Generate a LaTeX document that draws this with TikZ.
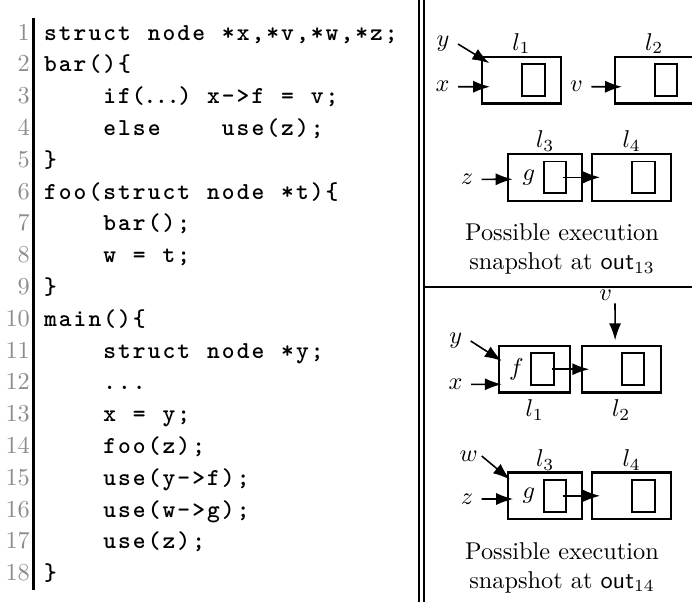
\documentclass[tikz,border=0pt]{standalone}
\usetikzlibrary{arrows.meta,positioning}
\definecolor{lnum}{gray}{0.55}
\newdimen\colw \colw=6.1pt
\makeatletter
\newcommand\cl[1]{\@tfor\cch:=#1\do{\makebox[\colw]{\cch}}}
\makeatother
\newcommand\cln[2]{\makebox[12.1pt][r]{\rmfamily\mdseries\color{lnum}#1}\hspace{5.4pt}#2}

\begin{document}
\begin{tikzpicture}
[x=0.4115pt, y=-0.4115pt,
codeln/.style={anchor=base west, inner sep=0pt, font=\ttfamily\bfseries},
cell/.style={draw, line width=0.9pt, inner sep=0pt, outer sep=0pt, minimum height=19.2pt},
slot/.style={draw, line width=0.8pt, inner sep=0pt, outer sep=0pt, minimum width=9.2pt, minimum height=13pt},
ptr/.style={-{Latex[length=7pt,width=5pt]}, line width=0.65pt},
ptrname/.style={anchor=east}
]
  \useasboundingbox (0,0) rectangle (692,602);

  \draw[line width=0.9pt] (33.5,18) -- (33.5,590);
  \node[codeln] (c1)  at (0,40)    {\cln{1}{\cl{struct~node~*x,*v,*w,*z;}}};
  \node[codeln] (c2)  at (0,71.8)  {\cln{2}{\cl{bar()\{}}};
  \node[codeln] (c3)  at (0,103.6) {\cln{3}{\cl{~~~~if}\makebox[4\colw][s]{(\hss.\hss.\hss.\hss)}\cl{~x->f~=~v;}}};
  \node[codeln] (c4)  at (0,135.4) {\cln{4}{\cl{~~~~else~~~~use(z);}}};
  \node[codeln] (c5)  at (0,167.2) {\cln{5}{\cl{\}}}};
  \node[codeln] (c6)  at (0,199)   {\cln{6}{\cl{foo(struct~node~*t)\{}}};
  \node[codeln] (c7)  at (0,230.8) {\cln{7}{\cl{~~~~bar();}}};
  \node[codeln] (c8)  at (0,262.6) {\cln{8}{\cl{~~~~w~=~t;}}};
  \node[codeln] (c9)  at (0,294.4) {\cln{9}{\cl{\}}}};
  \node[codeln] (c10) at (0,326.2) {\cln{10}{\cl{main()\{}}};
  \node[codeln] (c11) at (0,358)   {\cln{11}{\cl{~~~~struct~node~*y;}}};
  \node[codeln] (c12) at (0,389.8) {\cln{12}{\cl{~~~~...}}};
  \node[codeln] (c13) at (0,421.6) {\cln{13}{\cl{~~~~x~=~y;}}};
  \node[codeln] (c14) at (0,453.4) {\cln{14}{\cl{~~~~foo(z);}}};
  \node[codeln] (c15) at (0,485.2) {\cln{15}{\cl{~~~~use(y->f);}}};
  \node[codeln] (c16) at (0,517)   {\cln{16}{\cl{~~~~use(w->g);}}};
  \node[codeln] (c17) at (0,548.8) {\cln{17}{\cl{~~~~use(z);}}};
  \node[codeln] (c18) at (0,580.6) {\cln{18}{\cl{\}}}};

  \draw[double, double distance=1.4pt, line width=0.7pt] (421.5,0) -- (421.5,602);
  \draw[line width=0.7pt] (424,287) -- (692,287);

  % snapshot at out_13
  \node[cell, minimum width=32.5pt] (L1a) at (521.5,80.2) {};
  \node[slot] (S1a) [left=6.7pt of L1a.east] {};
  \node[cell, minimum width=32.5pt] (L2a) at (654.2,80.2) {};
  \node[slot] (S2a) [left=6.7pt of L2a.east] {};
  \node[cell, minimum width=30.5pt] (L3a) at (545.3,177.3) {};
  \node[slot] (S3a) [left=6.7pt of L3a.east] {};
  \node[cell, minimum width=32.4pt] (L4a) [right=4.1pt of L3a] {};
  \node[slot] (S4a) [left=6.7pt of L4a.east] {};
  \node (n1a) [above=2.7pt of L1a, anchor=base] {$l_1$};
  \node (n2a) [above=2.7pt of L2a, anchor=base] {$l_2$};
  \node (n3a) [above=2.5pt of L3a, anchor=base] {$l_3$};
  \node (n4a) [above=2.5pt of L4a, anchor=base] {$l_4$};
  \node (g3a) [left=0pt of S3a] {$g$};
  \node[ptrname] (ya) at (458,44)      {$y$};
  \node[ptrname] (xa) at (458,86.7)    {$x$};
  \node[ptrname] (va) at (591.3,86.7)  {$v$};
  \node[ptrname] (za) at (481.7,179.3) {$z$};
  \node[align=center] (capa) at (562,249) {Possible execution\\snapshot at $\textsf{out}_{13}$};

  \path[ptr]
    (ya.east) edge ([shift={(3pt,-2.6pt)}]L1a.north west)
    (xa.east) edge ([shift={(3.3pt,-2.7pt)}]L1a.west)
    (va.east) edge ([shift={(3pt,-2.7pt)}]L2a.west)
    (za.east) edge ([shift={(1.8pt,-0.8pt)}]L3a.west)
    (S3a.east) edge [shorten <=-1.4pt] ([xshift=3.2pt]L4a.west)
    ;

  % snapshot at out_14
  \node[cell, minimum width=29.1pt] (L1b) at (534.7,369.2) {};
  \node[slot] (S1b) [left=6.7pt of L1b.east] {};
  \node[cell, minimum width=32.5pt] (L2b) [right=4.8pt of L1b] {};
  \node[slot] (S2b) [left=6.7pt of L2b.east] {};
  \node[cell, minimum width=30.5pt] (L3b) at (545.3,495.8) {};
  \node[slot] (S3b) [left=6.7pt of L3b.east] {};
  \node[cell, minimum width=32.4pt] (L4b) [right=4.1pt of L3b] {};
  \node[slot] (S4b) [left=6.7pt of L4b.east] {};
  \node (n1b) [below=9.8pt of L1b, anchor=base] {$l_1$};
  \node (n2b) [below=9.8pt of L2b, anchor=base] {$l_2$};
  \node (n3b) [above=2.5pt of L3b, anchor=base] {$l_3$};
  \node (n4b) [above=2.5pt of L4b, anchor=base] {$l_4$};
  \node (f1b) [left=-0.3pt of S1b] {$f$};
  \node (g3b) [left=0pt of S3b] {$g$};
  \node[ptrname, anchor=south east, inner sep=1pt] (vb) at (615,303.3) {$v$};
  \node[ptrname] (yb) at (470.7,341)   {$y$};
  \node[ptrname] (xb) at (471,384.3)   {$x$};
  \node[ptrname, inner sep=1.5pt] (wb) at (481.7,456) {$w$};
  \node[ptrname] (zb) at (481.7,499)   {$z$};
  \node[align=center] (capb) at (562,567.5) {Possible execution\\snapshot at $\textsf{out}_{14}$};

  \path[ptr]
    (vb.south east) edge ([shift={(-2.5pt,2.3pt)}]L2b.north)
    (yb.east) edge ([shift={(1pt,-6.2pt)}]L1b.north west)
    (xb.east) edge ([shift={(1pt,-6.2pt)}]L1b.west)
    (S1b.east) edge [shorten <=-0.7pt] ([xshift=3.1pt]L2b.west)
    (wb.east) edge ([shift={(0.7pt,-2.9pt)}]L3b.north west)
    (zb.east) edge ([shift={(2pt,-1.3pt)}]L3b.west)
    (S3b.east) edge [shorten <=-1.4pt] ([xshift=3.2pt]L4b.west)
    ;
\end{tikzpicture}
\end{document}
